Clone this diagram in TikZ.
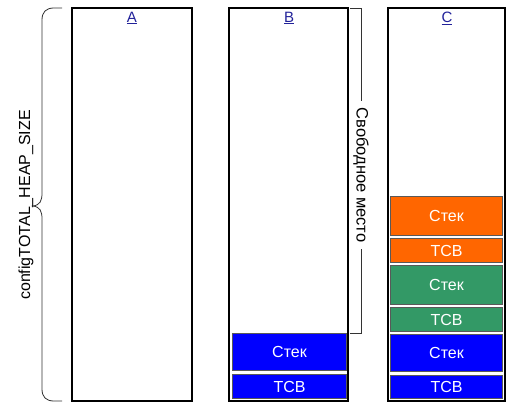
\documentclass[tikz,border=0pt]{standalone}
\usepackage{fontspec}
\setmainfont{Liberation Sans}
\definecolor{stkblue}{HTML}{0000FF}
\definecolor{stkorange}{HTML}{FF6600}
\definecolor{stkgreen}{HTML}{339966}
\definecolor{linkblue}{HTML}{22229A}
\begin{document}
\begin{tikzpicture}[x=1pt, y=-1pt, font=\fontsize{16}{18}\selectfont,
    heap/.style={draw=black, line width=1.4pt},
    blk/.style={draw=black!65, line width=1pt, text=white, inner sep=0pt},
    title/.style={text=linkblue, font=\fontsize{15}{17}\selectfont},
    mark line/.style={draw=black!80, line width=0.8pt}]
\useasboundingbox (0,0) rectangle (509,409);
% heap columns
\draw[heap] (72,8) rectangle (192,401);
\draw[heap] (229,8) rectangle (348,401);
\draw[heap] (388,8) rectangle (505,401);
\node[title] (tA) at (132,18) {\underline{A}};
\node[title] (tB) at (289,18) {\underline{B}};
\node[title] (tC) at (447,18) {\underline{C}};
% tasks in B
\foreach \nm/\col/\top/\bot/\txt in {bS/stkblue/333/370/Стек, bT/stkblue/374/398/TCB}{
  \node[blk, fill=\col, minimum width=114pt, minimum height={\bot-\top}, anchor=north west]
    (\nm) at (232,\top) {\txt};
}
% tasks in C
\foreach \nm/\col/\top/\bot/\txt in {oS/stkorange/196/235/Стек, oT/stkorange/238/262/TCB,
    gS/stkgreen/265/304/Стек, gT/stkgreen/307/331/TCB,
    cS/stkblue/334/371/Стек, cT/stkblue/375/398/TCB}{
  \node[blk, fill=\col, minimum width=112pt, minimum height={\bot-\top}, anchor=north west]
    (\nm) at (390,\top) {\txt};
}
% total heap size
\coordinate (braceT) at (62,8);
\coordinate (braceB) at (62,401);
\draw[mark line] (braceT) -- (54,8) .. controls (46,8) and (42,12) .. (42,20) -- (42,193)
  .. controls (42,201) and (40,205) .. (33,206) .. controls (40,207) and (42,211) .. (42,219)
  -- (42,389) .. controls (42,397) and (46,401) .. (54,401) -- (braceB);
\node[rotate=90] (heapsize) at (26,205) {configTOTAL\_HEAP\_SIZE};
% free space in B
\node[rotate=-90, inner xsep=6pt] (free) at (361,175) {\fontsize{16.5}{18}\selectfont Свободное место};
\coordinate (freeT) at (350,8);
\coordinate (freeB) at (350,333);
\draw[mark line] (freeT) -| (free.west);
\draw[mark line] (freeB) -| (free.east);
\end{tikzpicture}
\end{document}
